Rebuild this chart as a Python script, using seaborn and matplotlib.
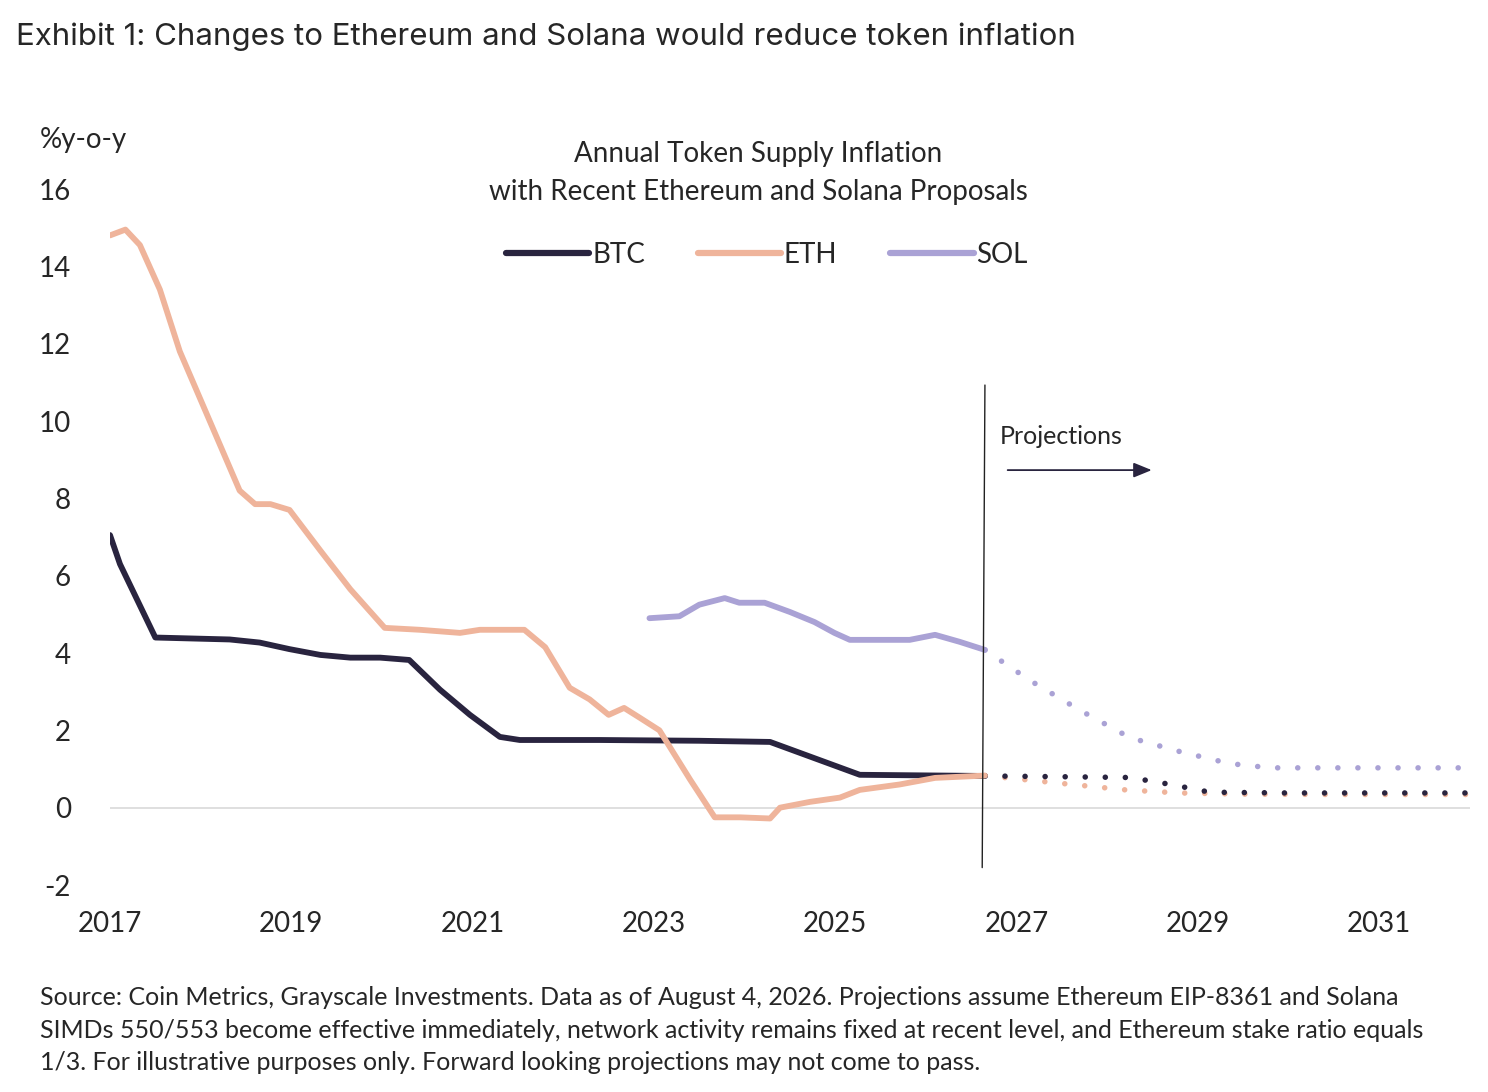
import numpy as np
import pandas as pd
import seaborn as sns
import matplotlib.pyplot as plt

# historical series (year, %y-o-y)
btc_x = [2017.0, 2017.11, 2017.5, 2018.32, 2018.65, 2018.98, 2019.32, 2019.65, 2019.98, 2020.3,
         2020.64, 2020.97, 2021.3, 2021.52, 2022.4, 2023.5, 2024.28, 2025.27, 2026.65]
btc_y = [7.05, 6.3, 4.4, 4.35, 4.27, 4.1, 3.95, 3.88, 3.88, 3.82,
         3.05, 2.4, 1.83, 1.75, 1.75, 1.73, 1.7, 0.85, 0.82]
eth_x = [2017.0, 2017.17, 2017.33, 2017.55, 2017.77, 2018.1, 2018.43, 2018.6, 2018.77, 2018.98,
         2019.32, 2019.65, 2020.03, 2020.42, 2020.86, 2021.08, 2021.57, 2021.8, 2022.07, 2022.29,
         2022.5, 2022.67, 2022.84, 2023.06, 2023.4, 2023.67, 2023.95, 2024.28, 2024.39, 2024.72,
         2025.05, 2025.27, 2025.71, 2026.1, 2026.65]
eth_y = [14.8, 14.95, 14.55, 13.4, 11.8, 10.0, 8.2, 7.85, 7.85, 7.7,
         6.65, 5.65, 4.65, 4.6, 4.52, 4.6, 4.6, 4.15, 3.1, 2.8,
         2.4, 2.58, 2.33, 2.0, 0.72, -0.25, -0.25, -0.28, 0.0, 0.15,
         0.26, 0.46, 0.6, 0.77, 0.83]
sol_x = [2022.95, 2023.28, 2023.5, 2023.78, 2023.94, 2024.22, 2024.5, 2024.77, 2024.99, 2025.16,
         2025.49, 2025.82, 2026.1, 2026.37, 2026.65]
sol_y = [4.9, 4.95, 5.25, 5.42, 5.3, 5.3, 5.06, 4.8, 4.52, 4.34,
         4.34, 4.34, 4.47, 4.29, 4.08]

# projections
btc_px = [2026.65, 2027.5, 2028.25, 2028.7, 2029.13, 2030.0, 2032.0]
btc_py = [0.82, 0.8, 0.78, 0.6, 0.4, 0.38, 0.38]
eth_px = [2026.65, 2027.4, 2028.2, 2028.8, 2029.5, 2030.5, 2032.0]
eth_py = [0.83, 0.65, 0.46, 0.38, 0.35, 0.34, 0.34]
sol_px = [2026.65, 2027.14, 2027.69, 2028.25, 2028.8, 2029.35, 2029.8, 2030.5, 2032.0]
sol_py = [4.08, 3.3, 2.53, 1.81, 1.45, 1.14, 1.03, 1.03, 1.03]

colors = {"BTC": "#29243f", "ETH": "#efb49b", "SOL": "#aaa2d5"}

hist = pd.concat([
    pd.DataFrame({"year": btc_x, "val": btc_y, "token": "BTC"}),
    pd.DataFrame({"year": eth_x, "val": eth_y, "token": "ETH"}),
    pd.DataFrame({"year": sol_x, "val": sol_y, "token": "SOL"}),
])
proj = pd.concat([
    pd.DataFrame({"year": sol_px, "val": sol_py, "token": "SOL"}),
    pd.DataFrame({"year": eth_px, "val": eth_py, "token": "ETH"}),
    pd.DataFrame({"year": btc_px, "val": btc_py, "token": "BTC"}),
])

sns.set_style("white")
plt.rcParams["font.family"] = ["Lato", "DejaVu Sans"]
plt.rcParams["axes.unicode_minus"] = False

fig = plt.figure(figsize=(14.88, 10.92), dpi=100)
ax = fig.add_axes([110 / 1488, 1 - 885 / 1092, 1360 / 1488, 696 / 1092])

sns.lineplot(data=proj, x="year", y="val", hue="token", palette=colors, ax=ax,
             linewidth=4, dashes=False, legend=False, sort=False)
for ln in ax.get_lines():
    ln.set_linestyle((0, (0.01, 3.6)))
    ln.set_dash_capstyle("round")
sns.lineplot(data=hist, x="year", y="val", hue="token", palette=colors, ax=ax,
             linewidth=4.2, sort=False)

ax.axhline(0, color="#d9d9d9", lw=1.2, zorder=0)
ax.plot([2026.65, 2026.62], [10.93, -1.55], color="#222222", lw=1)
ax.text(2026.81, 9.59, "Projections", fontsize=18, va="center")
ax.annotate("", xy=(2028.52, 8.73), xytext=(2026.87, 8.73),
            arrowprops=dict(arrowstyle="-|>,head_length=1.1,head_width=0.45", color="#29243f", lw=1.3))

ax.set_xlim(2017, 2032)
ax.set_ylim(-2, 16)
ax.set_xticks(range(2017, 2032, 2))
ax.set_yticks(range(-2, 17, 2))
ax.tick_params(axis="both", labelsize=20, length=0)
ax.tick_params(axis="x", pad=19)
ax.tick_params(axis="y", pad=28)
for s in ax.spines.values():
    s.set_visible(False)
ax.set_xlabel("")
ax.set_ylabel("")

leg = ax.legend(loc="upper center", bbox_to_anchor=(0.483, 0.96), ncol=3, frameon=False,
                fontsize=20, handlelength=3.0, handletextpad=0.1, columnspacing=1.9)
for h in leg.get_lines():
    h.set_linewidth(4.5)

fig.text(758 / 1488, 1 - 173 / 1092, "Annual Token Supply Inflation\nwith Recent Ethereum and Solana Proposals",
         ha="center", va="center", fontsize=20, linespacing=1.6)
fig.text(40 / 1488, 1 - 140 / 1092, "%y-o-y", fontsize=20, va="center")
fig.text(16 / 1488, 1 - 37 / 1092, "Exhibit 1: Changes to Ethereum and Solana would reduce token inflation",
         fontsize=22.5, va="center", family=["Inter", "DejaVu Sans"])
fig.text(40 / 1488, 1 - 1030 / 1092,
         "Source: Coin Metrics, Grayscale Investments. Data as of August 4, 2026. Projections assume Ethereum EIP-8361 and Solana\n"
         "SIMDs 550/553 become effective immediately, network activity remains fixed at recent level, and Ethereum stake ratio equals\n"
         "1/3. For illustrative purposes only. Forward looking projections may not come to pass.",
         fontsize=18, va="center", linespacing=1.5)

fig.savefig("out.png", dpi=100)
